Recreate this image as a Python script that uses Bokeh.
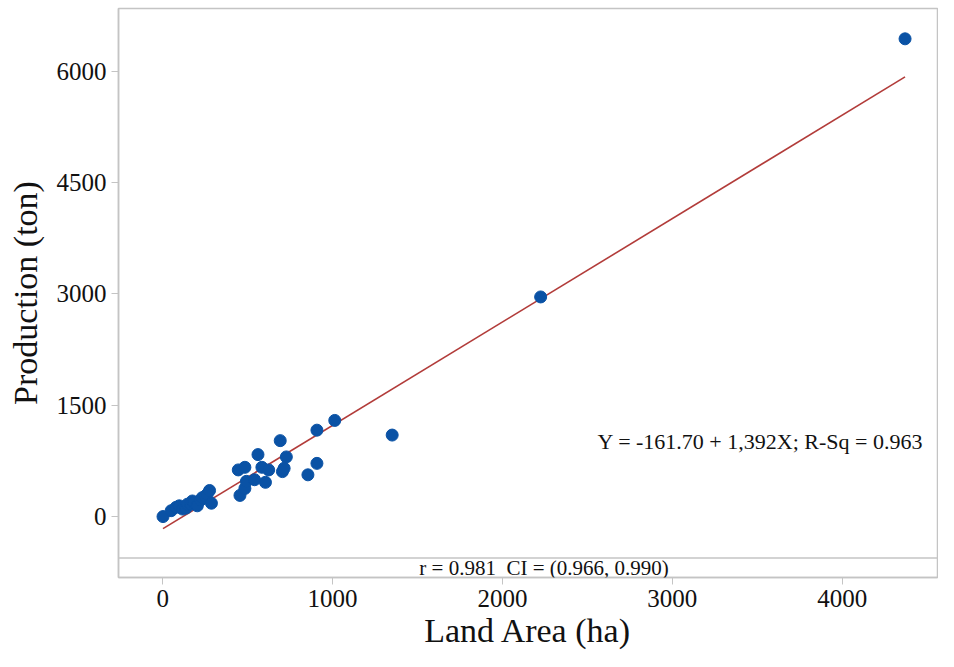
from bokeh.plotting import figure
from bokeh.models import Span, Label, FixedTicker
from bokeh.embed import file_html
from bokeh.resources import INLINE

# Data
land_area = [2, 50, 79, 98, 117, 137, 146, 166, 175, 185, 204, 224, 233, 252, 262, 276, 287,
             445, 455, 484, 484, 493, 541, 561, 584, 605, 624, 692, 705, 715, 728, 855, 908,
             908, 1013, 1351, 2225, 4370]
production = [4, 83, 128, 149, 105, 118, 171, 171, 214, 193, 149, 228, 259, 280, 303, 355, 184,
              632, 289, 667, 382, 478, 500, 838, 667, 465, 632, 1026, 609, 654, 807, 566, 720,
              1167, 1298, 1101, 2960, 6434]
intercept = -161.70
slope = 1.392
x_ticks = [0, 1000, 2000, 3000, 4000]
y_ticks = [0, 1500, 3000, 4500, 6000]
eq_text = "Y = -161.70 + 1,392X; R-Sq = 0.963"
r_text = "r = 0.981\u00a0 CI = (0.966, 0.990)"

FONT = "Liberation Serif"
GRAY = "#c4c4c4"

p = figure(width=938, height=651, output_backend="svg", toolbar_location=None,
           x_range=(-260, 4561), y_range=(-816, 6842),
           min_border_top=8, min_border_right=1, min_border_left=118, min_border_bottom=73)
p.grid.visible = False
p.outline_line_color = GRAY
p.outline_line_width = 1.5

x_line = [min(land_area), max(land_area)]
y_line = [intercept + slope * v for v in x_line]
p.line(x_line, y_line, line_color="#b23c3a", line_width=1.6)
p.scatter(land_area, production, size=12, fill_color="#0a52a5", line_color="#0a52a5")

p.add_layout(Span(location=-553, dimension="width", line_color=GRAY, line_width=1.5))

p.add_layout(Label(x=2560, y=1013, text=eq_text, text_font=FONT, text_font_size="22px",
                   text_color="#111111", text_baseline="middle", text_align="left"))
p.add_layout(Label(x=2245, y=-688, text=r_text, text_font=FONT, text_font_size="21px",
                   text_color="#111111", text_baseline="middle", text_align="center"))

for ax in (p.xaxis[0], p.yaxis[0]):
    ax.axis_line_color = GRAY
    ax.axis_line_width = 1.5
    ax.major_tick_line_color = GRAY
    ax.major_tick_in = 0
    ax.major_tick_out = 7
    ax.minor_tick_line_color = None
    ax.major_label_text_font = FONT
    ax.major_label_text_font_size = "25px"
    ax.major_label_text_color = "#111111"
    ax.axis_label_text_font = FONT
    ax.axis_label_text_font_size = "34px"
    ax.axis_label_text_font_style = "normal"
    ax.axis_label_text_color = "#111111"

p.xaxis.ticker = FixedTicker(ticks=x_ticks)
p.yaxis.ticker = FixedTicker(ticks=y_ticks)
p.xaxis.axis_label = "Land Area (ha)"
p.yaxis.axis_label = "Production (ton)"
p.xaxis.major_label_standoff = 5
p.yaxis.major_label_standoff = 5
p.xaxis.axis_label_standoff = 2
p.yaxis.axis_label_standoff = 10

open("out.html", "w").write(file_html(p, INLINE))
